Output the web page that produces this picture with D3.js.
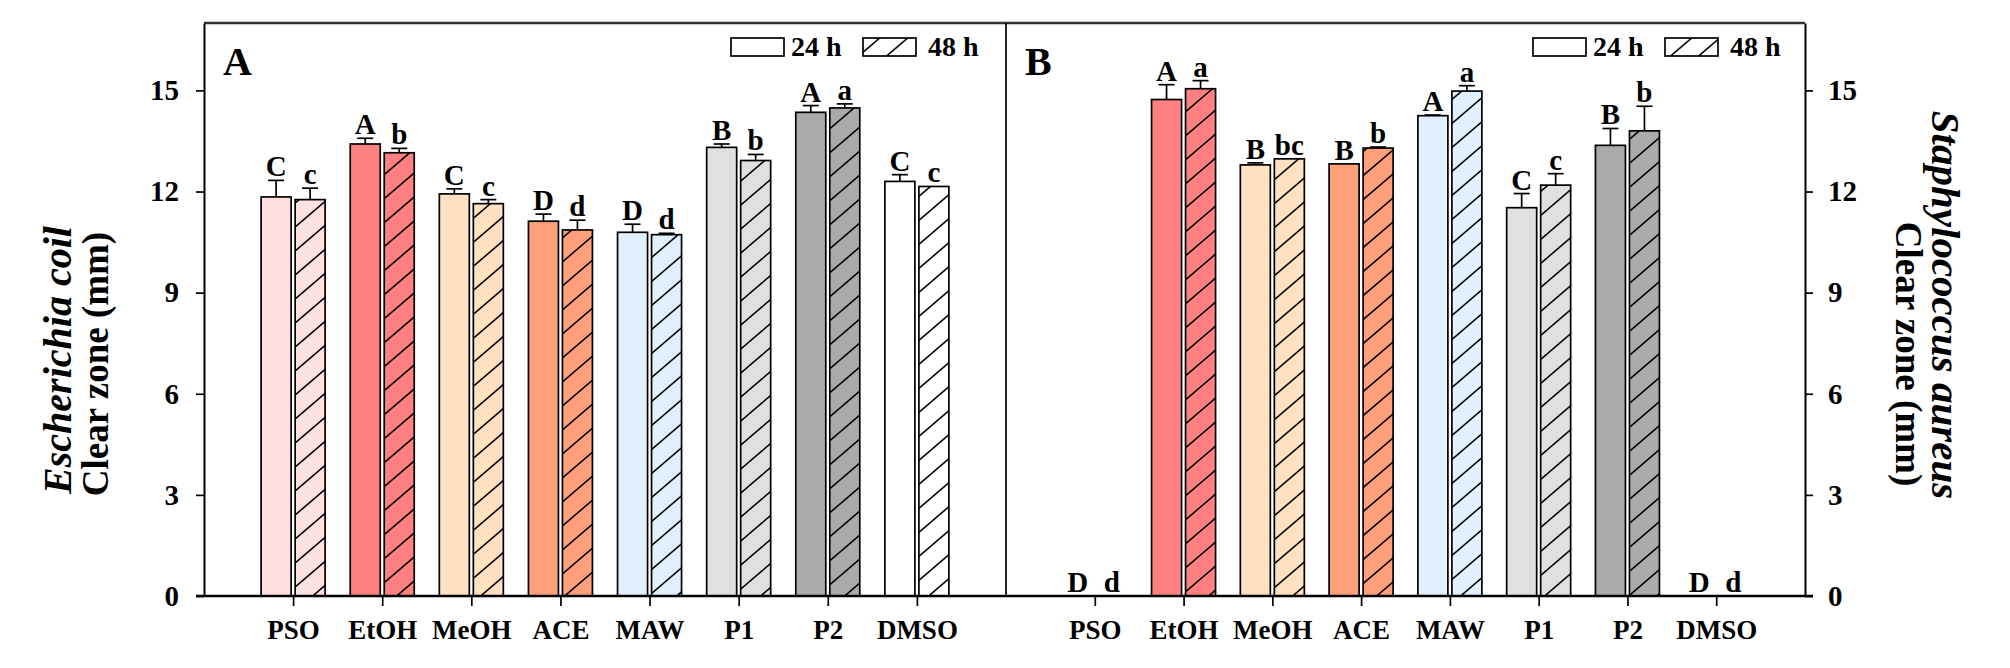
<!DOCTYPE html>
<html>
<head>
<meta charset="utf-8">
<script src="https://cdn.jsdelivr.net/npm/d3@7"></script>
<style>
  html, body { margin: 0; padding: 0; background: #fff; }
  svg { display: block; }
  text { font-family: "Liberation Serif", "Times New Roman", serif; font-weight: bold; fill: #000; }
</style>
</head>
<body>
<svg id="chart" width="2010" height="668"></svg>
<script>
// ---------------- data ----------------
const categories = ["PSO", "EtOH", "MeOH", "ACE", "MAW", "P1", "P2", "DMSO"];
const barColors = ["#FFE0E0", "#FF8080", "#FFE0C0", "#FFA07A", "#E0F0FF", "#E0E0E0", "#AAAAAA", "#FFFFFF"];
const yTicks = [0, 3, 6, 9, 12, 15];

const ecoli24 = [11.84, 13.41, 11.93, 11.12, 10.79, 13.31, 14.35, 12.30];
const ecoli24Err = [0.49, 0.17, 0.15, 0.21, 0.24, 0.10, 0.20, 0.20];
const ecoli48 = [11.76, 13.15, 11.64, 10.86, 10.72, 12.92, 14.48, 12.15];
const ecoli48Err = [0.34, 0.13, 0.12, 0.29, 0.04, 0.18, 0.12, 0.00];
const ecoli24Letters = ["C", "A", "C", "D", "D", "B", "A", "C"];
const ecoli48Letters = ["c", "b", "c", "d", "d", "b", "a", "c"];

const saureus24 = [0, 14.73, 12.79, 12.82, 14.25, 11.52, 13.37, 0];
const saureus24Err = [0, 0.44, 0.06, 0.00, 0.02, 0.42, 0.50, 0];
const saureus48 = [0, 15.05, 12.97, 13.29, 14.98, 12.19, 13.80, 0];
const saureus48Err = [0, 0.24, 0.00, 0.03, 0.16, 0.34, 0.73, 0];
const saureus24Letters = ["D", "A", "B", "B", "A", "C", "B", "D"];
const saureus48Letters = ["d", "a", "bc", "b", "a", "c", "b", "d"];

const legendLabels = ["24 h", "48 h"];
const panelLabels = ["A", "B"];

// ---------------- layout ----------------
const svg = d3.select("#chart");
const yTop = 23, yBottom = 596;
const panelA = { x0: 204, x1: 1006 };
const panelB = { x0: 1006, x1: 1805 };
const y = d3.scaleLinear().domain([0, 17]).range([yBottom, yTop]);

// hatch patterns
const defs = svg.append("defs");
function hatchId(i) { return "hatch" + i; }
barColors.concat(["#FFFFFF"]).forEach((c, i) => {
  const p = defs.append("pattern")
    .attr("id", hatchId(i))
    .attr("patternUnits", "userSpaceOnUse")
    .attr("width", 28).attr("height", 24);
  p.append("rect").attr("width", 28).attr("height", 24).attr("fill", c);
  p.append("path").attr("d", "M-2.8,26.4 L30.8,-2.4 M25.2,26.4 L58.8,-2.4 M-30.8,26.4 L2.8,-2.4")
    .attr("stroke", "#000").attr("stroke-width", 1.6).attr("fill", "none");
});

function drawPanel(panel, v24, e24, v48, e48, l24, l48, label) {
  const x = d3.scalePoint().domain(categories).range([panel.x0, panel.x1]).padding(1);
  const g = svg.append("g");
  const barW = 30, gap = 2;

  const series = [
    { vals: v24, errs: e24, letters: l24, off: -(gap + barW), hatch: false },
    { vals: v48, errs: e48, letters: l48, off: gap, hatch: true }
  ];
  series.forEach(s => {
    categories.forEach((cat, i) => {
      const v = s.vals[i];
      const bx = x(cat) + s.off;
      const cx = bx + barW / 2;
      if (v > 0) {
        g.append("rect")
          .attr("x", bx).attr("y", y(v))
          .attr("width", barW).attr("height", y(0) - y(v))
          .attr("fill", s.hatch ? "url(#" + hatchId(i) + ")" : barColors[i])
          .attr("stroke", "#000").attr("stroke-width", 1.7);
        const err = s.errs[i];
        if (err > 0) {
          g.append("line").attr("x1", cx).attr("x2", cx)
            .attr("y1", y(v)).attr("y2", y(v + err))
            .attr("stroke", "#000").attr("stroke-width", 1.7);
          g.append("line").attr("x1", cx - 8).attr("x2", cx + 8)
            .attr("y1", y(v + err)).attr("y2", y(v + err))
            .attr("stroke", "#000").attr("stroke-width", 1.7);
        }
      }
      g.append("text")
        .attr("x", cx).attr("y", y(v + s.errs[i]) - 4)
        .attr("text-anchor", "middle")
        .style("font-size", "29px")
        .text(s.letters[i]);
    });
  });

  // x ticks + labels
  const ax = svg.append("g").attr("transform", `translate(0,${yBottom})`)
    .call(d3.axisBottom(x).tickSize(10).tickSizeOuter(0).tickPadding(14));
  ax.select(".domain").remove();
  ax.selectAll(".tick line").attr("stroke", "#000").attr("stroke-width", 1.7);
  ax.selectAll(".tick text").style("font-size", "27px")
    .style("font-family", "'Liberation Serif', serif").style("font-weight", "bold").attr("fill", "#000");

  // panel label
  svg.append("text").attr("x", panel.x0 + 19).attr("y", 75)
    .style("font-size", "40px").text(label);

  // legend
  const lx = panel.x0 + 527;
  const boxes = [
    { bx: lx, tx: lx + 60, fill: "#FFFFFF", text: legendLabels[0] },
    { bx: lx + 132, tx: lx + 197, fill: "url(#" + hatchId(8) + ")", text: legendLabels[1] }
  ];
  boxes.forEach(b => {
    svg.append("rect").attr("x", b.bx).attr("y", 38).attr("width", 53).attr("height", 18)
      .attr("fill", b.fill).attr("stroke", "#000").attr("stroke-width", 1.7);
    svg.append("text").attr("x", b.tx).attr("y", 56).style("font-size", "28px").text(b.text);
  });
}

drawPanel(panelA, ecoli24, ecoli24Err, ecoli48, ecoli48Err, ecoli24Letters, ecoli48Letters, panelLabels[0]);
drawPanel(panelB, saureus24, saureus24Err, saureus48, saureus48Err, saureus24Letters, saureus48Letters, panelLabels[1]);

// y axes
function styleAxis(a) {
  a.select(".domain").attr("stroke", "#000").attr("stroke-width", 2);
  a.selectAll(".tick line").attr("stroke", "#000").attr("stroke-width", 1.7);
  a.selectAll(".tick text").style("font-size", "29px")
    .style("font-family", "'Liberation Serif', serif").style("font-weight", "bold").attr("fill", "#000");
}
const yAxisL = svg.append("g").attr("transform", `translate(${panelA.x0},0)`)
  .call(d3.axisLeft(y).tickValues(yTicks).tickSize(8).tickSizeOuter(0).tickPadding(17));
styleAxis(yAxisL);
const yAxisR = svg.append("g").attr("transform", `translate(${panelB.x1},0)`)
  .call(d3.axisRight(y).tickValues(yTicks).tickSize(8).tickSizeOuter(0).tickPadding(15));
styleAxis(yAxisR);

// frame: top line, divider, baseline
svg.append("line").attr("x1", panelA.x0).attr("x2", panelB.x1).attr("y1", yTop).attr("y2", yTop)
  .attr("stroke", "#333").attr("stroke-width", 2.4);
svg.append("line").attr("x1", panelA.x1).attr("x2", panelA.x1).attr("y1", yTop).attr("y2", yBottom)
  .attr("stroke", "#000").attr("stroke-width", 1.7);
svg.append("line").attr("x1", panelA.x0 - 8).attr("x2", panelB.x1 + 8).attr("y1", yBottom).attr("y2", yBottom)
  .attr("stroke", "#000").attr("stroke-width", 2.4);

// axis titles
const ymid = 360;
svg.append("text").attr("transform", `translate(71,${ymid}) rotate(-90)`)
  .attr("text-anchor", "middle").style("font-size", "40px").style("font-style", "italic")
  .text("Escherichia coil");
svg.append("text").attr("transform", `translate(108,${ymid + 4}) rotate(-90)`)
  .attr("text-anchor", "middle").style("font-size", "37px").text("Clear zone (mm)");
svg.append("text").attr("transform", `translate(1932,305) rotate(90)`)
  .attr("text-anchor", "middle").style("font-size", "41px").style("font-style", "italic")
  .text("Staphylococcus aureus");
svg.append("text").attr("transform", `translate(1896,354) rotate(90)`)
  .attr("text-anchor", "middle").style("font-size", "37px").text("Clear zone (mm)");
</script>
</body>
</html>
